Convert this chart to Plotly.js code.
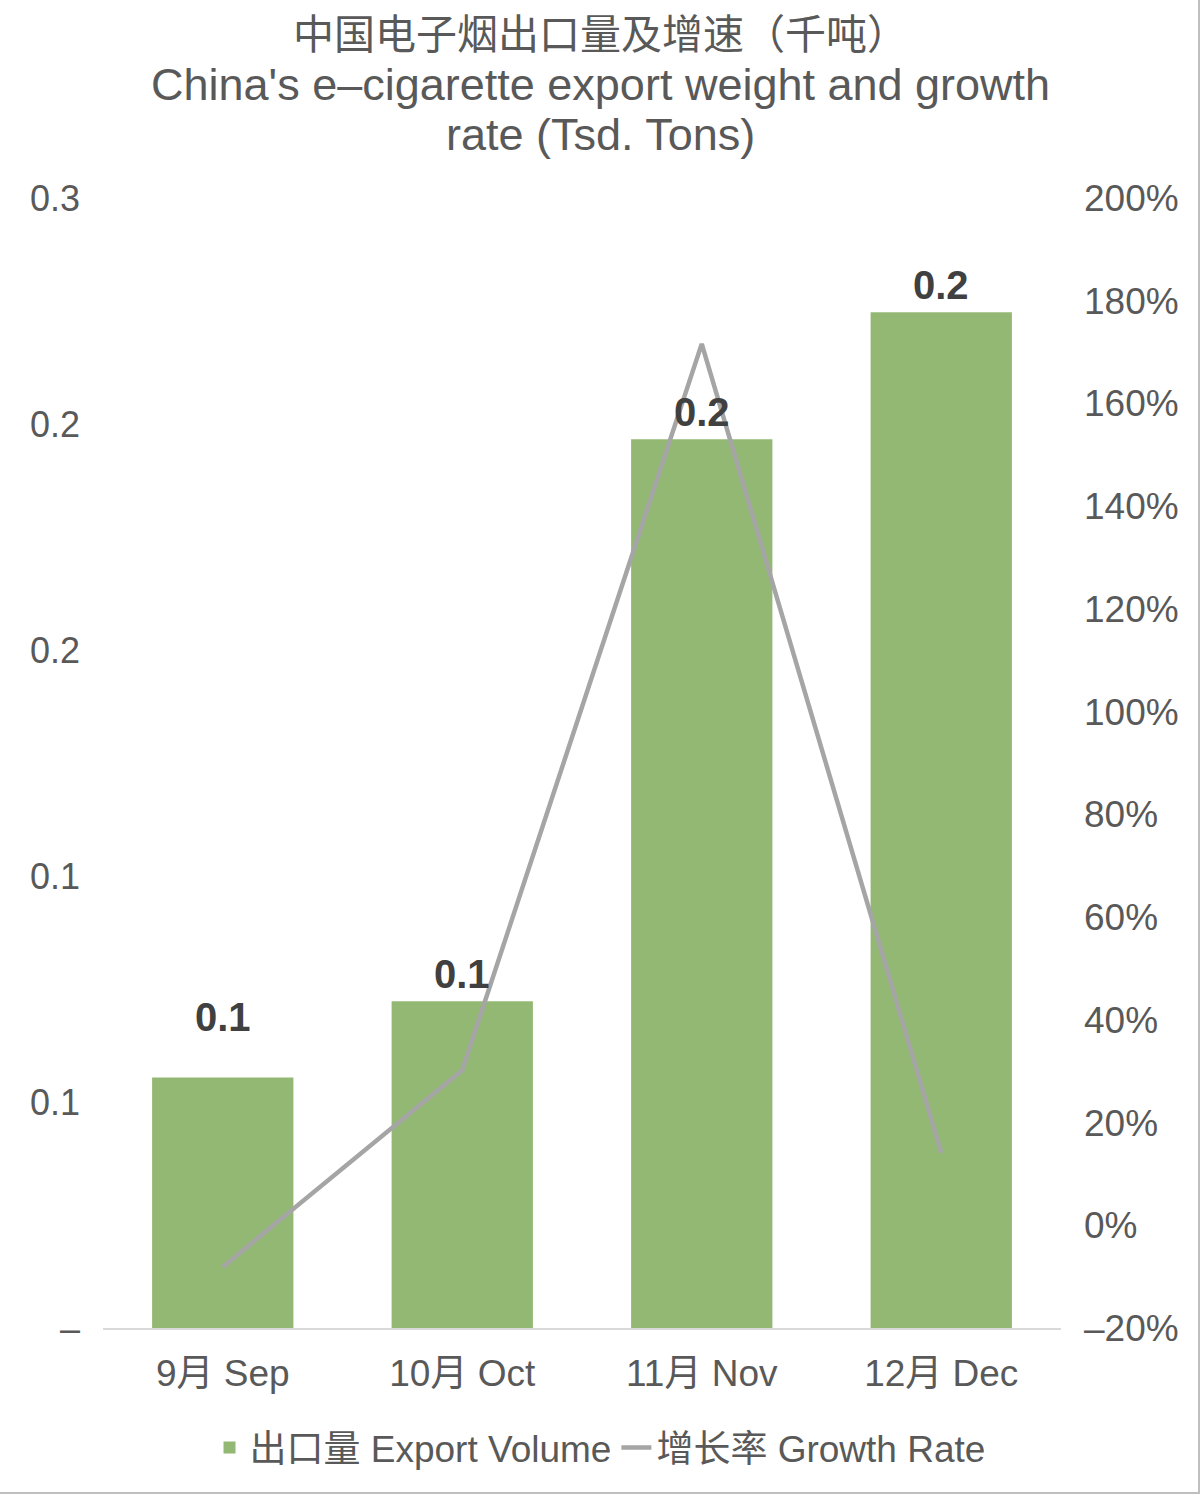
<!DOCTYPE html>
<html>
<head>
<meta charset="utf-8">
<script src="https://cdn.plot.ly/plotly-3.0.1.min.js"></script>
<style>html,body{margin:0;padding:0;background:#fff;}#chart{width:1200px;height:1494px;}</style>
</head>
<body>
<div id="chart"></div>
<script>
const categories = ["9月 Sep", "10月 Oct", "11月 Nov", "12月 Dec"];
const exportVolume = [0.0554, 0.0723, 0.1966, 0.2247];
const growthRate = [-8.1, 30.2, 171.6, 14.1];
const barLabels = ["0.1", "0.1", "0.2", "0.2"];
const leftTickVals = [0, 0.05, 0.1, 0.15, 0.2, 0.25];
const leftTickText = ["–", "0.1", "0.1", "0.2", "0.2", "0.3"];
const rightTickVals = [-20, 0, 20, 40, 60, 80, 100, 120, 140, 160, 180, 200];
const rightTickText = ["–20%", "0%", "20%", "40%", "60%", "80%", "100%", "120%", "140%", "160%", "180%", "200%"];
const titleLines = ["中国电子烟出口量及增速（千吨）", "China's e–cigarette export weight and growth", "rate (Tsd. Tons)"];
const labelShift = [37, 3, 3, 3];

const FONT = '"Liberation Sans", "Noto Sans CJK SC", sans-serif';
const GREY = '#595959';
const W = 1200, H = 1494;
const M = {l: 103, r: 139, t: 198, b: 166};
const PW = W - M.l - M.r, PH = H - M.t - M.b;
const px2x = p => (p - M.l) / PW;
const py2y = p => (H - M.b - p) / PH;

const traces = [
  {
    type: 'bar', name: '出口量 Export Volume', x: categories, y: exportVolume,
    marker: {color: '#93B874'}, width: 0.59, yaxis: 'y', hoverinfo: 'none'
  },
  {
    type: 'scatter', mode: 'lines', name: '增长率 Growth Rate', x: categories, y: growthRate,
    line: {color: '#A5A5A5', width: 4.5}, yaxis: 'y2', hoverinfo: 'none'
  }
];

const annotations = categories.map((c, i) => ({
  x: c, y: exportVolume[i], xref: 'x', yref: 'y', text: barLabels[i],
  showarrow: false, yanchor: 'bottom', yshift: labelShift[i],
  font: {family: FONT, size: 40, color: '#404040', weight: 'bold'}
}));

const titleY = [35, 85, 135];
const titleSize = [41, 45, 45];
titleLines.forEach((t, i) => {
  annotations.push({
    x: px2x(600), y: py2y(titleY[i]), xref: 'paper', yref: 'paper',
    text: t, showarrow: false, xanchor: 'center', yanchor: 'middle',
    font: {family: FONT, size: titleSize[i], color: GREY}
  });
});

const layout = {
  width: W, height: H,
  paper_bgcolor: '#fff', plot_bgcolor: 'rgba(0,0,0,0)',
  margin: M,
  font: {family: FONT, color: GREY, size: 36},
  xaxis: {
    type: 'category', showgrid: false, zeroline: false,
    showline: true, linecolor: '#D9D9D9', linewidth: 1.5,
    ticks: '', tickfont: {size: 37, color: GREY}, ticklabelstandoff: 12
  },
  yaxis: {
    range: [0, 0.25], tickmode: 'array', tickvals: leftTickVals, ticktext: leftTickText,
    showgrid: false, zeroline: false, showline: false, ticks: '',
    tickfont: {size: 36, color: GREY}, ticklabelstandoff: 22
  },
  yaxis2: {
    overlaying: 'y', side: 'right', range: [-20, 200], tickmode: 'array',
    tickvals: rightTickVals, ticktext: rightTickText,
    showgrid: false, zeroline: false, showline: false, ticks: '',
    tickfont: {size: 37, color: GREY}, ticklabelstandoff: 22
  },
  showlegend: true,
  legend: {
    orientation: 'h', x: 0.5, xref: 'container', xanchor: 'center',
    y: 1 - 1448/1494, yref: 'container', yanchor: 'middle',
    font: {size: 37, color: GREY}, itemwidth: 30
  },
  shapes: [
    {type: 'line', xref: 'paper', yref: 'paper', x0: px2x(1199), x1: px2x(1199), y0: py2y(0), y1: py2y(1494),
     line: {color: '#BFBFBF', width: 2}},
    {type: 'line', xref: 'paper', yref: 'paper', x0: px2x(0), x1: px2x(1200), y0: py2y(1493), y1: py2y(1493),
     line: {color: '#BFBFBF', width: 2}}
  ],
  annotations: annotations
};

Plotly.newPlot('chart', traces, layout, {displayModeBar: false, staticPlot: true});
</script>
</body>
</html>
